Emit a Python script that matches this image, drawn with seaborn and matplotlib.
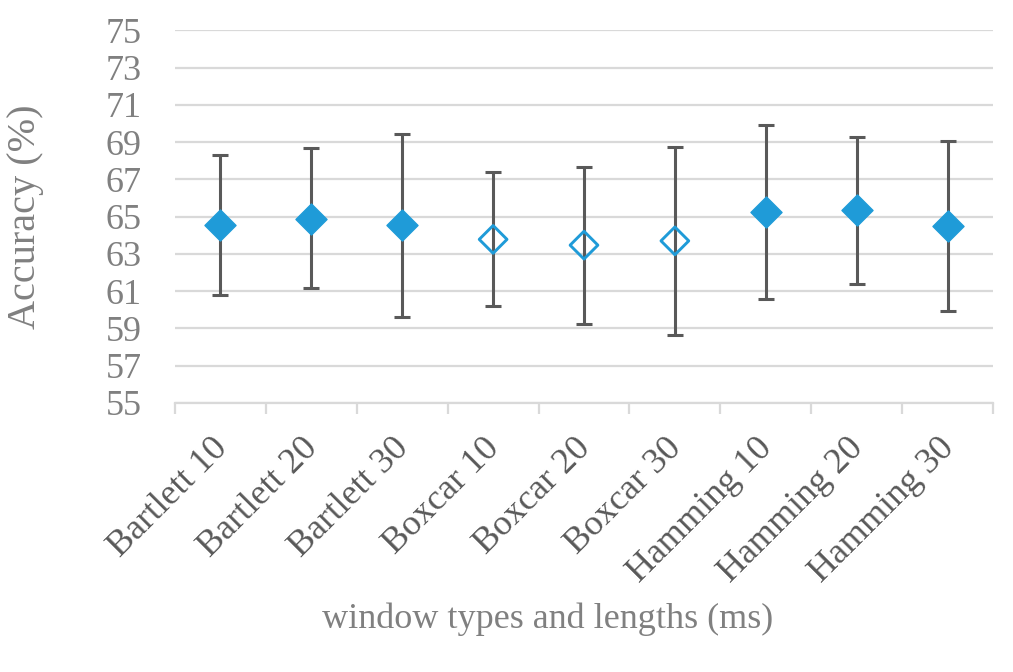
import matplotlib
matplotlib.use("Agg")
import matplotlib.pyplot as plt
import matplotlib.transforms as mtransforms
import seaborn as sns
import pandas as pd
import numpy as np

# data
windows = ['Bartlett 10', 'Bartlett 20', 'Bartlett 30',
           'Boxcar 10', 'Boxcar 20', 'Boxcar 30',
           'Hamming 10', 'Hamming 20', 'Hamming 30']
accuracy = [64.53, 64.90, 64.53, 63.78, 63.47, 63.70, 65.26, 65.35, 64.49]
err_upper = [68.29, 68.68, 69.41, 67.41, 67.68, 68.75, 69.93, 69.29, 69.04]
err_lower = [60.82, 61.16, 59.64, 60.19, 59.26, 58.65, 60.59, 61.41, 59.94]
filled = [True, True, True, False, False, False, True, True, True]

df = pd.DataFrame({'window': windows, 'accuracy': accuracy,
                   'upper': err_upper, 'lower': err_lower, 'filled': filled})

sns.set_theme(style="whitegrid")
plt.rcParams['font.family'] = ['Liberation Serif', 'DejaVu Serif']

blue = '#1F9BD8'
dark = '#595959'
grid = '#D9D9D9'

fig = plt.figure(figsize=(10.13, 6.72), dpi=100)
ax = fig.add_axes([0.1728, 0.4003, 0.8074, 0.5546])

# error bars first, markers on top
yerr = np.array([df['accuracy'] - df['lower'], df['upper'] - df['accuracy']])
ax.errorbar(df['window'], df['accuracy'], yerr=yerr, fmt='none',
            ecolor=dark, elinewidth=2.2, capsize=5.5, capthick=2.2, zorder=3)

sns.scatterplot(data=df[df['filled']], x='window', y='accuracy', ax=ax,
                marker='D', s=250, color=blue, edgecolor=blue, linewidth=1,
                zorder=4, legend=False)
sns.scatterplot(data=df[~df['filled']], x='window', y='accuracy', ax=ax,
                marker='D', s=200, facecolor='none', edgecolor=blue,
                linewidth=2.1, zorder=4, legend=False)

ax.set_xlim(-0.5, len(windows) - 0.5)
ax.set_ylim(55, 75)
ax.set_yticks(np.arange(55, 76, 2))

ax.grid(axis='y', color=grid, linewidth=1.6)
ax.grid(axis='x', visible=False)
for s in ['top', 'right', 'left']:
    ax.spines[s].set_visible(False)
ax.spines['bottom'].set_color(grid)
ax.spines['bottom'].set_linewidth(1.6)

ax.set_xticks(np.arange(len(windows)))
ax.set_xticklabels(windows, rotation=45, ha='right', va='top',
                   rotation_mode='anchor', fontsize=26, color=dark)
ax.set_xticks(np.arange(-0.5, len(windows), 1), minor=True)
ax.tick_params(axis='x', which='major', length=0, pad=12)
ax.tick_params(axis='x', which='minor', length=8, width=1.6, color=grid,
               direction='out', bottom=True)
ax.tick_params(axis='y', length=0, labelsize=26, labelcolor='#808080', pad=24)

# nudge the slanted labels down-left like the original
shift = mtransforms.ScaledTranslation(-0.10, -0.12, fig.dpi_scale_trans)
for lab in ax.get_xticklabels():
    lab.set_transform(lab.get_transform() + shift)

ax.set_xlabel('window types and lengths (ms)', fontsize=26, color='#808080')
ax.set_ylabel('Accuracy (%)', fontsize=29, color='#808080')
ax.xaxis.set_label_coords(0.455, -0.535)
ax.yaxis.set_label_coords(-0.16, 0.5)

fig.savefig('out.png', dpi=100, facecolor='white')
